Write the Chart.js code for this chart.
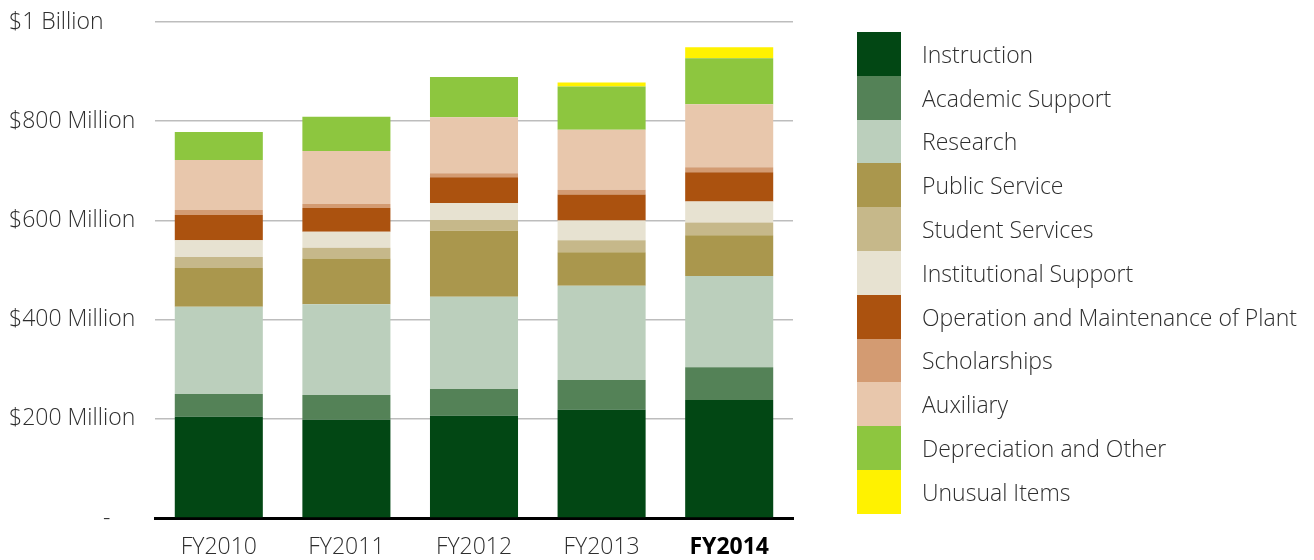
<!DOCTYPE html>
<html>
<head>
<meta charset="utf-8">
<script src="https://cdn.jsdelivr.net/npm/chart.js@4/dist/chart.umd.min.js"></script>
<style>
    html, body { margin: 0; padding: 0; background: #ffffff; }
    .wrap { position: relative; width: 1314px; height: 560px; }
    #expenseChart { position: absolute; left: 0; top: 0; }
    .legend { position: absolute; left: 857px; top: 32px; font-family: "Open Sans", Lato, sans-serif; font-size: 23px; font-weight: 300; color: #2e2e2e; }
    .legend-row { display: flex; align-items: center; height: 43.8px; }
    .legend-box { width: 44px; height: 43.8px; }
    .legend-text { margin-left: 21px; white-space: nowrap; }
</style>
</head>
<body>
<div class="wrap">
    <canvas id="expenseChart" width="1314" height="560"></canvas>
    <div class="legend" id="legend"></div>
</div>
<script>
// ===============================
// DATA (millions of dollars)
// ===============================
const years = ["FY2010", "FY2011", "FY2012", "FY2013", "FY2014"];

const instruction          = [204, 198, 206, 218, 238];
const academicSupport      = [46, 50, 54, 60, 66];
const research             = [176, 183, 186, 190, 184];
const publicService        = [78, 92, 133, 68, 82];
const studentServices      = [22, 22, 22, 24, 26];
const institutionalSupport = [34, 32, 34, 40, 42];
const operationPlant       = [51, 48, 52, 52, 59];
const scholarships         = [10, 8, 8, 10, 10];
const auxiliary            = [101, 107, 113, 121, 127];
const depreciation         = [56, 69, 81, 87, 93];
const unusualItems         = [0, 0, 0, 8, 22];

const seriesNames = [
    "Instruction",
    "Academic Support",
    "Research",
    "Public Service",
    "Student Services",
    "Institutional Support",
    "Operation and Maintenance of Plant",
    "Scholarships",
    "Auxiliary",
    "Depreciation and Other",
    "Unusual Items"
];

const seriesValues = [
    instruction, academicSupport, research, publicService, studentServices,
    institutionalSupport, operationPlant, scholarships, auxiliary, depreciation, unusualItems
];

const seriesColors = [
    "#024714", "#548257", "#bbcfbc", "#aa974d", "#c6b88a",
    "#e7e2d1", "#ab520f", "#d39b72", "#e8c7ac", "#8dc63f", "#fff200"
];

const yTickLabels = {
    0: "",
    200: "$200 Million",
    400: "$400 Million",
    600: "$600 Million",
    800: "$800 Million",
    1000: "$1 Billion"
};

const FONT = "'Open Sans', Lato, sans-serif";
const TEXT = "#2e2e2e";

// ===============================
// LEGEND (html, right side)
// ===============================
const legend = document.getElementById("legend");
seriesNames.forEach((name, i) => {
    const row = document.createElement("div");
    row.className = "legend-row";
    row.innerHTML = `<div class="legend-box" style="background:${seriesColors[i]}"></div><div class="legend-text">${name}</div>`;
    legend.appendChild(row);
});

// "-" marker for the zero line
const zeroDash = {
    id: "zeroDash",
    afterDraw(chart) {
        const y = chart.scales.y.getPixelForValue(0);
        const ctx = chart.ctx;
        ctx.save();
        ctx.font = "300 23px " + FONT;
        ctx.fillStyle = TEXT;
        ctx.textAlign = "left";
        ctx.textBaseline = "middle";
        ctx.fillText("-", 103, y);
        ctx.restore();
    }
};

// ===============================
// CHART
// ===============================
new Chart(document.getElementById("expenseChart"), {
    type: "bar",
    data: {
        labels: years,
        datasets: seriesNames.map((name, i) => ({
            label: name,
            data: seriesValues[i],
            backgroundColor: seriesColors[i],
            borderWidth: 0,
            barPercentage: 0.69,
            categoryPercentage: 1
        }))
    },
    options: {
        responsive: false,
        animation: false,
        layout: {
            padding: { left: 9, right: 521, top: 22, bottom: 0 }
        },
        plugins: {
            legend: { display: false },
            tooltip: { enabled: false }
        },
        scales: {
            x: {
                stacked: true,
                grid: { display: false },
                border: { color: "#000000", width: 3 },
                ticks: {
                    padding: 8,
                    color: (c) => c.index === 4 ? "#000000" : TEXT,
                    font: (c) => ({ family: FONT, size: 23, weight: c.index === 4 ? "bold" : "300" })
                },
                afterFit(scale) { scale.height = 42; }
            },
            y: {
                stacked: true,
                min: 0,
                max: 1000,
                border: { display: false },
                grid: {
                    color: "#bdbdbd",
                    lineWidth: 1.5,
                    drawTicks: false
                },
                ticks: {
                    stepSize: 200,
                    crossAlign: "far",
                    padding: 0,
                    color: TEXT,
                    font: { family: FONT, size: 23, weight: "300" },
                    callback: (v) => yTickLabels[v]
                },
                afterFit(scale) { scale.width = 146; }
            }
        }
    },
    plugins: [zeroDash]
});
</script>
</body>
</html>
